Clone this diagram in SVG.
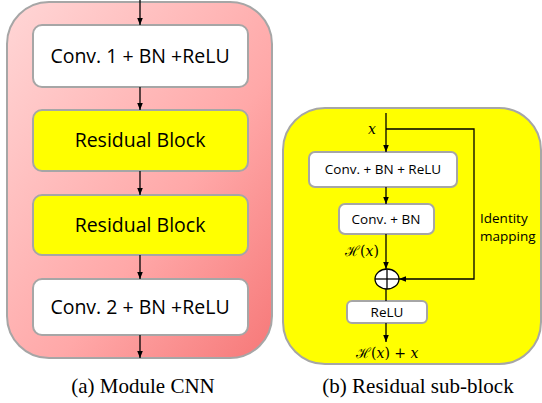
<svg xmlns="http://www.w3.org/2000/svg" width="542" height="403" viewBox="0 0 542 403">
<defs>
<linearGradient id="pink" x1="0" y1="0" x2="1" y2="1">
<stop offset="0" stop-color="#ffd6d6"/>
<stop offset="0.6" stop-color="#ffa8a8"/>
<stop offset="1" stop-color="#f67878"/>
</linearGradient>
<marker id="arr" viewBox="0 0 10 10" refX="10" refY="5" markerWidth="7" markerHeight="7" orient="auto" markerUnits="userSpaceOnUse">
<path d="M0,1 L10,5 L0,9 Z" fill="#000"/>
</marker>
<style>
.panel{stroke:#a6a6a6;stroke-width:2}
.box{stroke:#a6a6a6;stroke-width:2}
.wb{fill:#fff}
.yb{fill:#ffff00}
.t{font-family:"Open Sans","Liberation Sans",sans-serif;fill:#000;text-anchor:middle}
.big{font-size:19.5px}
.sm{font-size:13.5px}
.cap{font-family:"Liberation Serif",serif;font-size:21px;fill:#000;text-anchor:middle}
.m{font-family:"DejaVu Serif","Liberation Serif",serif;font-style:italic;font-size:14px;fill:#000}
.n{font-style:normal}
.ln{stroke:#000;stroke-width:1.3;fill:none}
</style>
</defs>
<g id="panel-a">
<rect class="panel" x="7" y="2" width="265" height="356" rx="42" fill="url(#pink)"/>
</g>
<g id="conv1">
<rect class="box wb" x="33" y="25" width="215" height="62" rx="9"/>
<text class="t big" x="140" y="63">Conv. 1 + BN +ReLU</text>
</g>
<g id="res1">
<rect class="box yb" x="33" y="110" width="215" height="61" rx="9"/>
<text class="t big" x="140" y="147">Residual Block</text>
</g>
<g id="res2">
<rect class="box yb" x="33" y="195" width="215" height="60" rx="9"/>
<text class="t big" x="140" y="232">Residual Block</text>
</g>
<g id="conv2">
<rect class="box wb" x="33" y="279" width="215" height="56" rx="9"/>
<text class="t big" x="140" y="314">Conv. 2 + BN +ReLU</text>
</g>
<text class="cap" x="143" y="393">(a) Module CNN</text>
<g id="panel-b">
<rect class="panel" x="283" y="108" width="258" height="256" rx="42" fill="#ffff00"/>
</g>
<g id="convbnrelu">
<rect class="box wb" x="309" y="152" width="148" height="35" rx="6"/>
<text class="t sm" x="383" y="174">Conv. + BN + ReLU</text>
</g>
<g id="convbn">
<rect class="box wb" x="339" y="204" width="95" height="30" rx="6"/>
<text class="t sm" x="386" y="224">Conv. + BN</text>
</g>
<g id="add">
<ellipse cx="387" cy="279" rx="12" ry="10" fill="#fff" stroke="#000" stroke-width="1.3"/>
<line class="ln" x1="375" y1="279" x2="399" y2="279"/>
<line class="ln" x1="387" y1="269" x2="387" y2="289"/>
</g>
<g id="relu">
<rect class="box wb" x="347" y="301" width="80" height="22" rx="5"/>
<text class="t sm" x="387" y="317">ReLU</text>
</g>
<g id="connectors">
<line class="ln" x1="140" y1="0" x2="140" y2="25" marker-end="url(#arr)"/>
<line class="ln" x1="140" y1="87" x2="140" y2="110" marker-end="url(#arr)"/>
<line class="ln" x1="140" y1="171" x2="140" y2="195" marker-end="url(#arr)"/>
<line class="ln" x1="140" y1="255" x2="140" y2="279" marker-end="url(#arr)"/>
<line class="ln" x1="140" y1="335" x2="140" y2="358" marker-end="url(#arr)"/>
<line class="ln" x1="386" y1="113" x2="386" y2="152" marker-end="url(#arr)"/>
<line class="ln" x1="386" y1="187" x2="386" y2="204" marker-end="url(#arr)"/>
<line class="ln" x1="386" y1="234" x2="386" y2="269" marker-end="url(#arr)"/>
<line class="ln" x1="386" y1="289" x2="386" y2="301"/>
<line class="ln" x1="386" y1="323" x2="386" y2="342" marker-end="url(#arr)"/>
<polyline class="ln" points="386,129 474,129 474,279 399,279" marker-end="url(#arr)"/>
</g>
<text class="m" x="368" y="134">x</text>
<text class="m" x="345" y="256"><tspan class="n">ℋ(</tspan>x<tspan class="n">)</tspan></text>
<text class="m" x="356" y="358"><tspan class="n">ℋ(</tspan>x<tspan class="n">) + </tspan>x</text>
<text class="t sm" x="480" y="223" style="text-anchor:start">Identity</text>
<text class="t sm" x="480" y="241" style="text-anchor:start">mapping</text>
<text class="cap" x="418" y="393">(b) Residual sub-block</text>
</svg>
